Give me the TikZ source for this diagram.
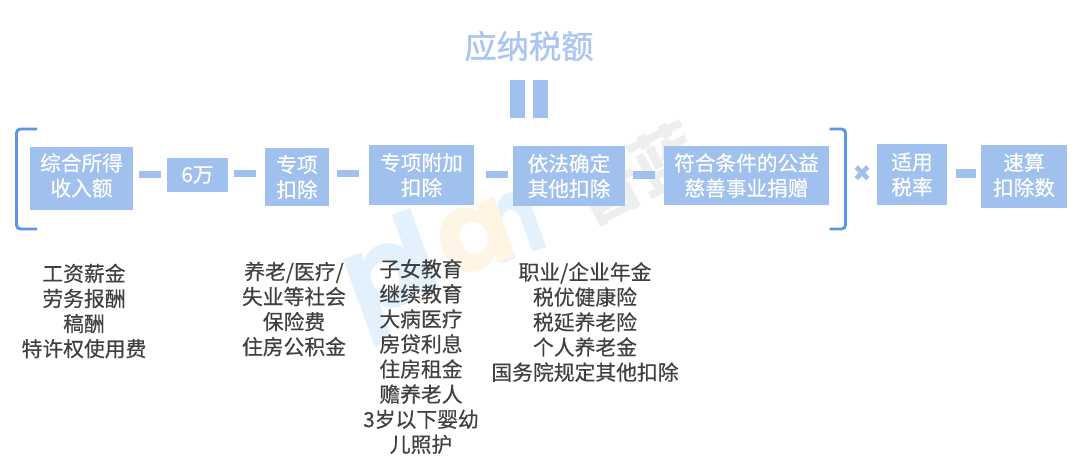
\documentclass[tikz,border=0pt]{standalone}
\usepackage{fontspec}
\setmainfont[FakeBold=0.35]{Noto Sans CJK SC}
\newfontfamily\titlefont[FakeBold=1.2]{Noto Sans CJK SC}
\newfontfamily\plainfont{Noto Sans CJK SC}
\newfontfamily\planfont{Poppins}
\newfontfamily\markfont{DejaVu Sans}
\usepackage{tikz}
\definecolor{boxblue}{HTML}{A0C0EE}
\definecolor{brblue}{HTML}{5E95E6}
\definecolor{titleblue}{HTML}{ABC6F1}
\definecolor{listgray}{HTML}{404040}
\definecolor{wmblue}{HTML}{E3F1FD}
\definecolor{wmorange}{HTML}{FFF5E5}
\definecolor{wmgray}{HTML}{EEEEEE}
\tikzset{
  boxn/.style={fill=boxblue,inner sep=0pt},
  boxtext/.style={text=white,inner sep=0pt,align=center,font=\fontsize{15.5}{18.8}\selectfont},
  listn/.style={text=listgray,inner sep=0pt,align=center,font=\fontsize{15.6}{18.8}\selectfont},
  bracketn/.style={draw=brblue,line width=2.2pt,rounded corners=3pt},
  wmark/.style={inner sep=0pt,rotate=20,anchor=base west,font=\planfont\bfseries\fontsize{85}{85}\selectfont},
}
\newcommand{\boxat}[7]{\node[boxn,minimum width=#3*0.75pt-#1*0.75pt,minimum height=#4*0.75pt-#2*0.75pt,label={[boxtext,yshift=#7*0.75pt]center:{#6}}] (#5) at ({(#1+#3)/2},{(#2+#4)/2}) {};}
\begin{document}
\begin{tikzpicture}[x=0.75pt,y=-0.75pt]
\useasboundingbox (0,0) rectangle (1080,474);
% watermark
\node[wmark,text=wmblue] (wmp) at (358,322) {p};
\node[wmark,text=wmblue] (wml) at (414,297) {l};
\node[wmark,text=wmblue] (wmn) at (497,266) {\scalebox{0.75}[1]{n}};
\node[wmark,text=wmorange] (wma) at (450,281) {a};
\node[inner sep=0pt,rotate=27,text=wmgray,font=\plainfont\bfseries\fontsize{50}{50}\selectfont] (wmcn) at (636,174) {普蓝};
% title and equals sign
\node[text=titleblue,inner sep=0pt,font=\titlefont\fontsize{24.2}{28}\selectfont] (title) at (529,46) {应纳税额};
\fill[boxblue] (510,80) rectangle (525,118);
\fill[boxblue] (533,80) rectangle (548,118);
% boxes
\boxat{30}{147}{133}{210}{income}{综合所得\\收入额}{3}
\boxat{167}{158}{228}{192}{sixw}{6万}{0}
\boxat{265}{148}{329}{206}{special}{专项\\扣除}{0}
\boxat{369}{145}{474}{205}{extra}{专项附加\\扣除}{0}
\boxat{513}{146}{625}{206}{other}{依法确定\\其他扣除}{0}
\boxat{664}{146}{829}{205}{charity}{符合条件的公益\\慈善事业捐赠}{0}
\boxat{877}{144}{947}{205}{rate}{适用\\税率}{0}
\boxat{981}{145}{1067}{208}{quick}{速算\\扣除数}{1.5}
% dashes
\foreach \xa/\ya/\xb/\yb in {139/171/161/178,234/170/256/177,337/170/359/177,486/171/508/178,633/171/655/179,956/169/976/178}
  \fill[boxblue] (\xa,\ya) rectangle (\xb,\yb);
% brackets
\draw[bracketn] (37,129) -- (16.5,129) -- (16.5,229) -- (37,229);
\draw[bracketn] (829.5,129) -- (845.5,129) -- (845.5,229) -- (829.5,229);
\node[text=boxblue,inner sep=0pt,font=\markfont\fontsize{17}{20}\selectfont] (times) at (862,173.5) {✖};
% lists
\node[listn] (list1) at (84,311) {工资薪金\\劳务报酬\\稿酬\\特许权使用费};
\node[listn] (list2) at (294,309) {养老/医疗/\\失业等社会\\保险费\\住房公积金};
\node[listn] (list3) at (421,356.5) {子女教育\\继续教育\\大病医疗\\房贷利息\\住房租金\\赡养老人\\3岁以下婴幼\\儿照护};
\node[listn] (list4) at (585,322) {职业/企业年金\\税优健康险\\税延养老险\\个人养老金\\国务院规定其他扣除};
\end{tikzpicture}
\end{document}
